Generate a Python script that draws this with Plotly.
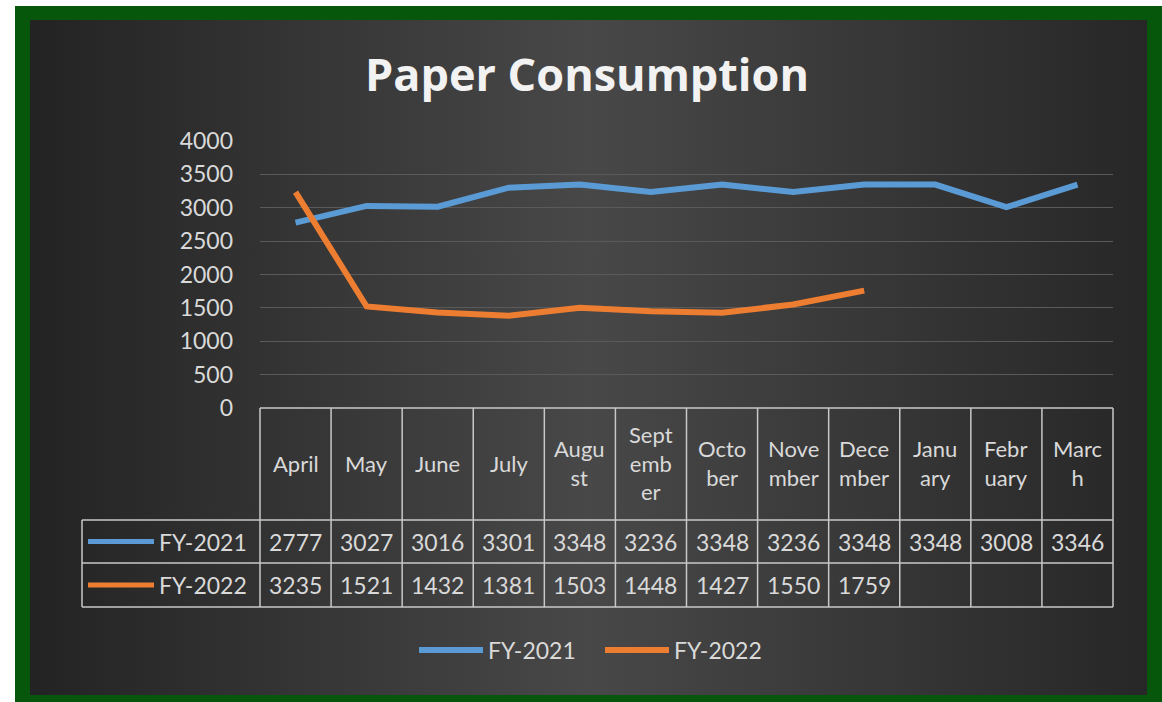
import plotly.graph_objects as go

# ---------------- data ----------------
months = ["April", "May", "June", "July", "August", "September", "October",
          "November", "December", "January", "February", "March"]
header_labels = ["April", "May", "June", "July", "Augu<br>st", "Sept<br>emb<br>er",
                 "Octo<br>ber", "Nove<br>mber", "Dece<br>mber", "Janu<br>ary",
                 "Febr<br>uary", "Marc<br>h"]
series_names = ["FY-2021", "FY-2022"]
fy2021 = [2777, 3027, 3016, 3301, 3348, 3236, 3348, 3236, 3348, 3348, 3008, 3346]
fy2022 = [3235, 1521, 1432, 1381, 1503, 1448, 1427, 1550, 1759, None, None, None]
y_ticks = [0, 500, 1000, 1500, 2000, 2500, 3000, 3500, 4000]

# ---------------- style ----------------
W, H = 1162, 702
FONT = "Lato"
TXT = "#d9d9d9"
COLORS = ["#5B9BD5", "#ED7D31"]
GRID = "#5a5a5a"
TABLE_LINE = "#c8c8c8"
FS = 23

# main plot area (pixels)
PL, PR, PT, PB = 260, 1113, 141, 408
xdom = [PL / W, PR / W]
ydom = [(H - PB) / H, (H - PT) / H]
ph = PB - PT
pw = PR - PL

def ydom_px(py):
    return (PB - py) / ph

def xdom_px(px):
    return (px - PL) / pw

header_bottom = ydom_px(520)
row1_bottom = ydom_px(563)
row2_bottom = ydom_px(607)
left_col = xdom_px(82)

fig = go.Figure()

# background panel with gradient (decoration on a full-page helper axis)
fig.add_trace(go.Scatter(
    x=[30, 1147, 1147, 30, 30], y=[20, 20, 695, 695, 20],
    mode="lines", line=dict(width=0), fill="toself",
    fillgradient=dict(type="horizontal",
                      colorscale=[[0, "#232323"], [0.5, "#484848"], [1, "#272727"]]),
    hoverinfo="skip", showlegend=False, xaxis="x", yaxis="y"))

# data lines
for name, vals, col in zip(series_names, [fy2021, fy2022], COLORS):
    fig.add_trace(go.Scatter(
        x=months, y=vals, name=name, mode="lines",
        line=dict(color=col, width=6), connectgaps=False,
        xaxis="x2", yaxis="y2"))

shapes = []
# green frame
shapes.append(dict(type="rect", xref="paper", yref="paper",
                   x0=15 / W, x1=1, y0=0, y1=1 - 6 / H,
                   fillcolor="#06560c", line=dict(width=0), layer="below"))

# table lines
ln = dict(color=TABLE_LINE, width=1.5)
n = len(months)
shapes.append(dict(type="line", xref="x2 domain", yref="y2 domain",
                   x0=0, x1=1, y0=0, y1=0, line=ln))
for yy in [header_bottom, row1_bottom, row2_bottom]:
    shapes.append(dict(type="line", xref="x2 domain", yref="y2 domain",
                       x0=left_col, x1=1, y0=yy, y1=yy, line=ln))
for i in range(n + 1):
    shapes.append(dict(type="line", xref="x2 domain", yref="y2 domain",
                       x0=i / n, x1=i / n, y0=0, y1=row2_bottom, line=ln))
shapes.append(dict(type="line", xref="x2 domain", yref="y2 domain",
                   x0=left_col, x1=left_col, y0=header_bottom, y1=row2_bottom, line=ln))

annotations = []
row_centers = [(header_bottom + row1_bottom) / 2, (row1_bottom + row2_bottom) / 2]
font = dict(family=FONT, size=FS, color=TXT)
# legend keys inside table
for name, col, yc in zip(series_names, COLORS, row_centers):
    shapes.append(dict(type="line", xref="x2 domain", yref="y2 domain",
                       x0=xdom_px(88), x1=xdom_px(154), y0=yc, y1=yc,
                       line=dict(color=col, width=5)))
    annotations.append(dict(text=name, xref="x2 domain", yref="y2 domain",
                            x=xdom_px(249), y=yc, xanchor="right", yanchor="middle",
                            showarrow=False, font=font))

# header labels
for m, lab in zip(months, header_labels):
    annotations.append(dict(text=lab, xref="x2", yref="y2 domain", x=m,
                            y=ydom_px(463), xanchor="center", yanchor="middle",
                            showarrow=False, font=dict(family=FONT, size=22, color=TXT)))
# values
for vals, yc in zip([fy2021, fy2022], row_centers):
    for m, v in zip(months, vals):
        if v is None:
            continue
        annotations.append(dict(text=str(v), xref="x2", yref="y2 domain", x=m, y=yc,
                                xanchor="center", yanchor="middle", showarrow=False,
                                font=font))

fig.update_layout(
    width=W, height=H, autosize=False,
    margin=dict(l=0, r=0, t=0, b=0, pad=0, autoexpand=False),
    paper_bgcolor="white", plot_bgcolor="rgba(0,0,0,0)",
    title=dict(text="<b>Paper Consumption</b>", x=587 / W, xanchor="center",
               y=1 - 75 / H, yanchor="middle", yref="container",
               font=dict(family="Open Sans", size=45, color="#f2f2f2")),
    xaxis=dict(domain=[0, 1], range=[0, W], visible=False, fixedrange=True),
    yaxis=dict(domain=[0, 1], range=[H, 0], visible=False, fixedrange=True),
    xaxis2=dict(domain=xdom, anchor="y2", range=[-0.5, n - 0.5], type="category",
                categoryorder="array", categoryarray=months,
                showticklabels=False, showgrid=False, zeroline=False, showline=False),
    yaxis2=dict(domain=ydom, anchor="x2", range=[0, 4000], tickvals=y_ticks,
                showgrid=True, gridcolor=GRID, gridwidth=1, zeroline=False,
                showline=False, ticks="", ticklabelstandoff=26,
                tickfont=dict(family=FONT, size=FS, color=TXT)),
    showlegend=True,
    legend=dict(orientation="h", x=414 / W, xanchor="left", y=(H - 650) / H,
                yanchor="middle", bgcolor="rgba(0,0,0,0)", itemwidth=64,
                entrywidth=107, entrywidthmode="pixels",
                font=dict(family=FONT, size=FS, color=TXT)),
    shapes=shapes, annotations=annotations,
)

fig.write_html(
    "out.html",
    config={"displayModeBar": False},
    post_script="document.body.style.margin='0';document.body.style.overflow='hidden';",
)
